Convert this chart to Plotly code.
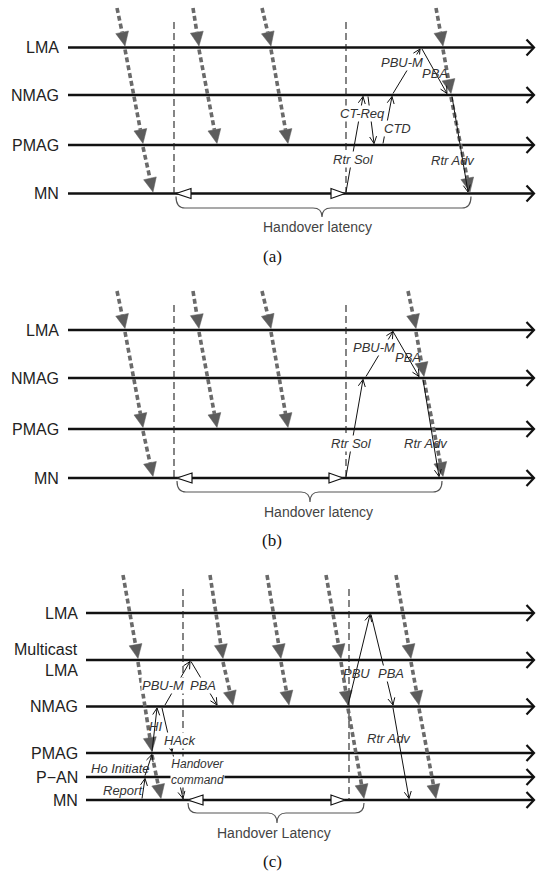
import math
import plotly.graph_objects as go

W, H = 542, 871

# ---------------- data: panel (a) ----------------
A_LANES = ["LMA", "NMAG", "PMAG", "MN"]
A_LANE_Y = [47.5, 95, 145, 193.5]
A_SRC_Y = 8
A_HANDOVER_T = [174, 346]
A_LATENCY_T = [176, 345, 471]          # start marker, end marker, packet arrival
A_FLOW_LANES = [["src", "LMA", "PMAG", "MN"],
                ["src", "LMA", "PMAG"],
                ["src", "LMA", "PMAG"],
                ["src", "LMA", "NMAG", "MN"]]
A_FLOW_T = [[117, 125, 143, 153],
            [193, 199, 217],
            [262, 271, 288],
            [436, 443, 451, 470]]
A_MSG_NAME = ["Rtr Sol", "CT-Req", "CTD", "PBU-M", "PBA", "Rtr Adv"]
A_MSG_FROM = ["MN", "NMAG", "PMAG", "NMAG", "LMA", "NMAG"]
A_MSG_TO = ["NMAG", "PMAG", "NMAG", "LMA", "NMAG", "MN"]
A_MSG_T0 = [346, 368, 383, 393, 422, 452]
A_MSG_T1 = [363, 374, 392, 420, 447, 468]
A_MSG_LX = [353, 362, 397, 402, 435, 453]
A_MSG_LY = [159, 113, 128, 62, 73, 160]

# ---------------- data: panel (b) ----------------
B_LANES = ["LMA", "NMAG", "PMAG", "MN"]
B_LANE_Y = [330, 378, 429, 478]
B_SRC_Y = 291
B_HANDOVER_T = [174, 346]
B_LATENCY_T = [177, 343, 442]
B_FLOW_LANES = [["src", "LMA", "PMAG", "MN"],
                ["src", "LMA", "PMAG"],
                ["src", "LMA", "PMAG"],
                ["src", "LMA", "NMAG", "MN"]]
B_FLOW_T = [[117, 125, 143, 153],
            [193, 199, 217],
            [262, 271, 288],
            [408, 416, 424, 443]]
B_MSG_NAME = ["Rtr Sol", "PBU-M", "PBA", "Rtr Adv"]
B_MSG_FROM = ["MN", "NMAG", "LMA", "NMAG"]
B_MSG_TO = ["NMAG", "LMA", "NMAG", "MN"]
B_MSG_T0 = [346, 366, 393, 423]
B_MSG_T1 = [363, 393, 419, 439]
B_MSG_LX = [351, 374, 408, 426]
B_MSG_LY = [443, 347, 357, 443]

# ---------------- data: panel (c) ----------------
C_LANES = ["LMA", "Multicast\nLMA", "NMAG", "PMAG", "P\u2212AN", "MN"]
C_LANE_Y = [613, 660, 706.5, 753, 777, 800]
C_SRC_Y = 575
C_HANDOVER_T = [183, 349]
C_LATENCY_T = [188, 345, 364]
C_FLOW_LANES = [["src", "Multicast\nLMA", "PMAG", "MN"],
                ["src", "Multicast\nLMA", "NMAG"],
                ["src", "Multicast\nLMA", "NMAG"],
                ["src", "Multicast\nLMA", "NMAG", "MN"],
                ["src", "Multicast\nLMA", "NMAG", "MN"]]
C_FLOW_T = [[123, 138, 152, 161],
            [210, 223, 233],
            [267, 281, 289],
            [326, 341, 348, 364],
            [396, 411, 419, 436]]
C_MSG_NAME = ["Report", "Ho Initiate", "HI", "PBU-M", "PBA", "HAck",
              "Handover\ncommand", "PBU", "PBA", "Rtr Adv"]
C_MSG_FROM = ["MN", "P\u2212AN", "PMAG", "NMAG", "Multicast\nLMA", "NMAG",
              "PMAG", "NMAG", "LMA", "NMAG"]
C_MSG_TO = ["P\u2212AN", "PMAG", "NMAG", "Multicast\nLMA", "NMAG", "PMAG",
            "MN", "LMA", "NMAG", "MN"]
C_MSG_T0 = [142, 145, 152, 165, 191, 162, 173, 348, 371, 393]
C_MSG_T1 = [145, 152, 157, 190, 217, 172, 183, 370, 393, 409]
C_MSG_LX = [123, 120, 155, 163, 203, 180, 197, 356, 391, 389]
C_MSG_LY = [790, 768, 726, 685, 685, 740, 771.5, 673, 673, 738]

PANEL_TITLES = ["(a)", "(b)", "(c)"]
LATENCY_TEXT = ["Handover latency", "Handover latency", "Handover Latency"]

# ---------------- style ----------------
SANS = "Liberation Sans, Arial, sans-serif"
SERIF = "Liberation Serif, Times New Roman, serif"
FLOW_COLOR = "#6a6a6a"
HEAD_COLOR = "#5c5c5c"
BOXED = {
    0: {0, 1, 2, 3},
    1: {0, 1},
    2: {3, 4, 5, 6, 8},
}

shapes = []
annotations = []


def unit(x0, y0, x1, y1):
    dx, dy = x1 - x0, y1 - y0
    n = math.hypot(dx, dy)
    return dx / n, dy / n


def filled_head(x0, y0, x1, y1, L=14, Wd=6.5):
    ux, uy = unit(x0, y0, x1, y1)
    bx, by = x1 - L * ux, y1 - L * uy
    px, py = -uy, ux
    path = (f"M {x1:.2f},{y1:.2f} L {bx + Wd * px:.2f},{by + Wd * py:.2f} "
            f"L {bx - Wd * px:.2f},{by - Wd * py:.2f} Z")
    return bx, by, path


def open_head(x0, y0, x1, y1, L=7, Wd=3.5):
    ux, uy = unit(x0, y0, x1, y1)
    bx, by = x1 - L * ux, y1 - L * uy
    px, py = -uy, ux
    return (f"M {bx + Wd * px:.2f},{by + Wd * py:.2f} L {x1:.2f},{y1:.2f} "
            f"L {bx - Wd * px:.2f},{by - Wd * py:.2f}")


def draw_panel(idx, lanes, lane_y, src_y, ho_t, lat_t, flow_lanes, flow_t,
               m_name, m_from, m_to, m_t0, m_t1, m_lx, m_ly,
               label_right, line_x0, lat_y, title_y):
    ymap = dict(zip(lanes, lane_y))
    ymap["src"] = src_y
    bottom = lane_y[-1]

    # lanes
    for name, y in zip(lanes, lane_y):
        shapes.append(dict(type="line", xref="x", yref="y", x0=line_x0, x1=533,
                           y0=y, y1=y, line=dict(color="#111111", width=2.4),
                           layer="below"))
        shapes.append(dict(type="path", xref="x", yref="y",
                           path=f"M 526.5,{y - 8} L 534,{y} L 526.5,{y + 8}",
                           line=dict(color="#111111", width=2.2), layer="below"))
        parts = name.split("\n")
        if len(parts) == 1:
            annotations.append(dict(x=label_right, y=y, text=name, showarrow=False,
                                    xanchor="right", yanchor="middle",
                                    font=dict(family=SANS, size=16, color="#222")))
        else:
            for k, p in enumerate(parts):
                annotations.append(dict(x=label_right, y=y + (k - 0.5) * 21, text=p,
                                        showarrow=False, xanchor="right",
                                        yanchor="middle",
                                        font=dict(family=SANS, size=16, color="#222")))

    # dashed handover lines
    for t in ho_t:
        shapes.append(dict(type="line", xref="x", yref="y", x0=t, x1=t,
                           y0=src_y + 14, y1=bottom,
                           line=dict(color="#222222", width=1.1, dash="7px,4px")))

    # packet flows (gray dotted arrows)
    for fl, ft in zip(flow_lanes, flow_t):
        for k in range(len(fl) - 1):
            xa, ya = ft[k], ymap[fl[k]] + (0 if k == 0 else 2)
            xb, yb = ft[k + 1], ymap[fl[k + 1]] - 1.5
            bx, by, path = filled_head(xa, ya, xb, yb)
            shapes.append(dict(type="line", xref="x", yref="y", x0=xa, y0=ya,
                               x1=bx, y1=by,
                               line=dict(color=FLOW_COLOR, width=3.6, dash="5px,3px")))
            shapes.append(dict(type="path", xref="x", yref="y", path=path,
                               fillcolor=HEAD_COLOR, line=dict(color=HEAD_COLOR, width=0.5)))

    # signalling messages
    for i in range(len(m_name)):
        ya = ymap[m_from[i]]
        yb = ymap[m_to[i]]
        s = 1 if yb > ya else -1
        ya2 = ya + s * 1.5
        yb2 = yb - s * 1.5
        shapes.append(dict(type="line", xref="x", yref="y", x0=m_t0[i], y0=ya2,
                           x1=m_t1[i], y1=yb2, line=dict(color="#111111", width=1)))
        shapes.append(dict(type="path", xref="x", yref="y",
                           path=open_head(m_t0[i], ya2, m_t1[i], yb2),
                           line=dict(color="#111111", width=1)))
        boxed = i in BOXED.get(idx, set())
        parts = m_name[i].split("\n")
        text = "<br>".join(f"<i>{p}</i>" for p in parts)
        annotations.append(dict(
            x=m_lx[i], y=m_ly[i], text=text, showarrow=False, xanchor="center",
            yanchor="middle", borderpad=0, align="center",
            bgcolor="white" if boxed else "rgba(0,0,0,0)",
            font=dict(family=SANS, size=13 if len(parts) == 1 else 12, color="#333")))

    # handover latency markers
    my = bottom
    x_s, x_e, x_arr = lat_t
    shapes.append(dict(type="path", xref="x", yref="y",
                       path=f"M {x_s},{my} L {x_s + 15},{my - 5} L {x_s + 15},{my + 5} Z",
                       fillcolor="white", line=dict(color="#111", width=1.2)))
    shapes.append(dict(type="path", xref="x", yref="y",
                       path=f"M {x_e},{my} L {x_e - 14},{my - 5} L {x_e - 14},{my + 5} Z",
                       fillcolor="white", line=dict(color="#111", width=1.2)))
    # brace
    y0 = my + 3
    yb = lat_y[0]
    ytip = lat_y[1]
    xc = lat_y[2]
    r = 9
    path = (f"M {x_s},{y0} Q {x_s},{yb} {x_s + r},{yb} L {xc - r},{yb} "
            f"Q {xc},{yb} {xc},{ytip} Q {xc},{yb} {xc + r},{yb} "
            f"L {x_arr - r},{yb} Q {x_arr},{yb} {x_arr},{y0}")
    shapes.append(dict(type="path", xref="x", yref="y", path=path,
                       line=dict(color="#555555", width=1.2)))
    annotations.append(dict(x=lat_y[3], y=lat_y[4], text=LATENCY_TEXT[idx],
                            showarrow=False, xanchor="center", yanchor="middle",
                            font=dict(family=SANS, size=14, color="#444")))
    annotations.append(dict(x=272, y=title_y, text=PANEL_TITLES[idx], showarrow=False,
                            xanchor="center", yanchor="middle",
                            font=dict(family=SERIF, size=17, color="#111")))


draw_panel(0, A_LANES, A_LANE_Y, A_SRC_Y, A_HANDOVER_T, A_LATENCY_T, A_FLOW_LANES,
           A_FLOW_T, A_MSG_NAME, A_MSG_FROM, A_MSG_TO, A_MSG_T0, A_MSG_T1, A_MSG_LX,
           A_MSG_LY, 61, 68, (208, 217, 322, 317, 227), 256)
draw_panel(1, B_LANES, B_LANE_Y, B_SRC_Y, B_HANDOVER_T, B_LATENCY_T, B_FLOW_LANES,
           B_FLOW_T, B_MSG_NAME, B_MSG_FROM, B_MSG_TO, B_MSG_T0, B_MSG_T1, B_MSG_LX,
           B_MSG_LY, 61, 68, (492, 502, 310, 318, 512), 540)
draw_panel(2, C_LANES, C_LANE_Y, C_SRC_Y, C_HANDOVER_T, C_LATENCY_T, C_FLOW_LANES,
           C_FLOW_T, C_MSG_NAME, C_MSG_FROM, C_MSG_TO, C_MSG_T0, C_MSG_T1, C_MSG_LX,
           C_MSG_LY, 80, 86, (813, 823, 277, 274, 833), 861)

fig = go.Figure()
fig.add_trace(go.Scatter(x=[0, W], y=[0, H], mode="markers",
                         marker=dict(opacity=0), hoverinfo="skip", showlegend=False))
fig.update_layout(
    width=W, height=H, autosize=False,
    margin=dict(l=0, r=0, t=0, b=0),
    paper_bgcolor="white", plot_bgcolor="white",
    xaxis=dict(range=[0, W], visible=False, fixedrange=True),
    yaxis=dict(range=[H, 0], visible=False, fixedrange=True),
    shapes=shapes, annotations=annotations, showlegend=False,
)
fig.write_html(
    "out.html",
    config={"displayModeBar": False, "staticPlot": True},
    post_script="document.body.style.margin='0';document.body.style.overflow='hidden';",
)
